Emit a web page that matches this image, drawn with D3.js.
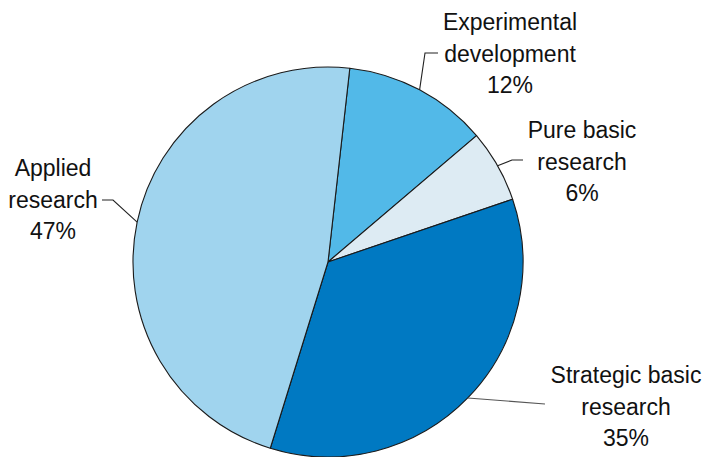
<!DOCTYPE html>
<html>
<head>
<meta charset="utf-8">
<script src="https://cdn.jsdelivr.net/npm/d3@7/dist/d3.min.js"></script>
<style>
  html, body { margin: 0; padding: 0; background: #fff; }
  svg { display: block; }
  text { font-family: "Liberation Sans", Arial, Helvetica, sans-serif; fill: #111; }
</style>
</head>
<body>
<svg id="chart" width="708" height="457"></svg>
<script>
// Share of R&D expenditure by type of activity (percent)
const categories = ["Experimental development", "Pure basic research", "Strategic basic research", "Applied research"];
const values = [12, 6, 35, 47];
const labelLines = [
  ["Experimental", "development", "12%"],
  ["Pure basic", "research", "6%"],
  ["Strategic basic", "research", "35%"],
  ["Applied", "research", "47%"]
];
const colors = ["#52b9e8", "#ddebf3", "#0079c2", "#a0d4ee"];

// Layout of the pie and its callouts
const cx = 328, cy = 262, radius = 195;
const fontSize = 23, lineHeight = 31.5;
// per label: bend point (relative to centre), horizontal end x, text centre x, first baseline y
const callouts = [
  { bend: [97, -209], endX: 438, textX: 510, textY: 30 },
  { bend: [184, -102], endX: 523, textX: 582, textY: 138 },
  { bend: [217, 142], endX: 545, textX: 626, textY: 383 },
  { bend: [-215, -62], endX: 102, textX: 53, textY: 176 }
];

const svg = d3.select("#chart");
const g = svg.append("g").attr("transform", `translate(${cx},${cy})`);

const startOffset = 0.112; // first slice begins just right of twelve o'clock
const pie = d3.pie().sort(null).value(d => d)
  .startAngle(startOffset).endAngle(startOffset + 2 * Math.PI);
const arcs = pie(values);
const arc = d3.arc().innerRadius(0).outerRadius(radius);

g.selectAll("path.slice")
  .data(arcs)
  .join("path")
  .attr("class", "slice")
  .attr("d", arc)
  .attr("fill", (d, i) => colors[i])
  .attr("stroke", "#1a1a1a")
  .attr("stroke-width", 1.1)
  .attr("stroke-linejoin", "round");

// Leader lines from the mid-angle of each slice's rim
arcs.forEach((d, i) => {
  const mid = (d.startAngle + d.endAngle) / 2;
  const x0 = radius * Math.sin(mid), y0 = -radius * Math.cos(mid);
  const c = callouts[i];
  const bx = c.bend[0], by = c.bend[1];
  svg.append("polyline")
    .attr("points", [[cx + x0, cy + y0], [cx + bx, cy + by], [c.endX, cy + by]].map(p => p.join(",")).join(" "))
    .attr("fill", "none")
    .attr("stroke", i === 2 ? "#555" : "#222")
    .attr("stroke-width", 1.1);

  const t = svg.append("text")
    .attr("text-anchor", "middle")
    .attr("font-size", fontSize);
  labelLines[i].forEach((line, k) => {
    t.append("tspan")
      .attr("x", c.textX)
      .attr("y", c.textY + k * lineHeight)
      .text(line);
  });
});
</script>
</body>
</html>
